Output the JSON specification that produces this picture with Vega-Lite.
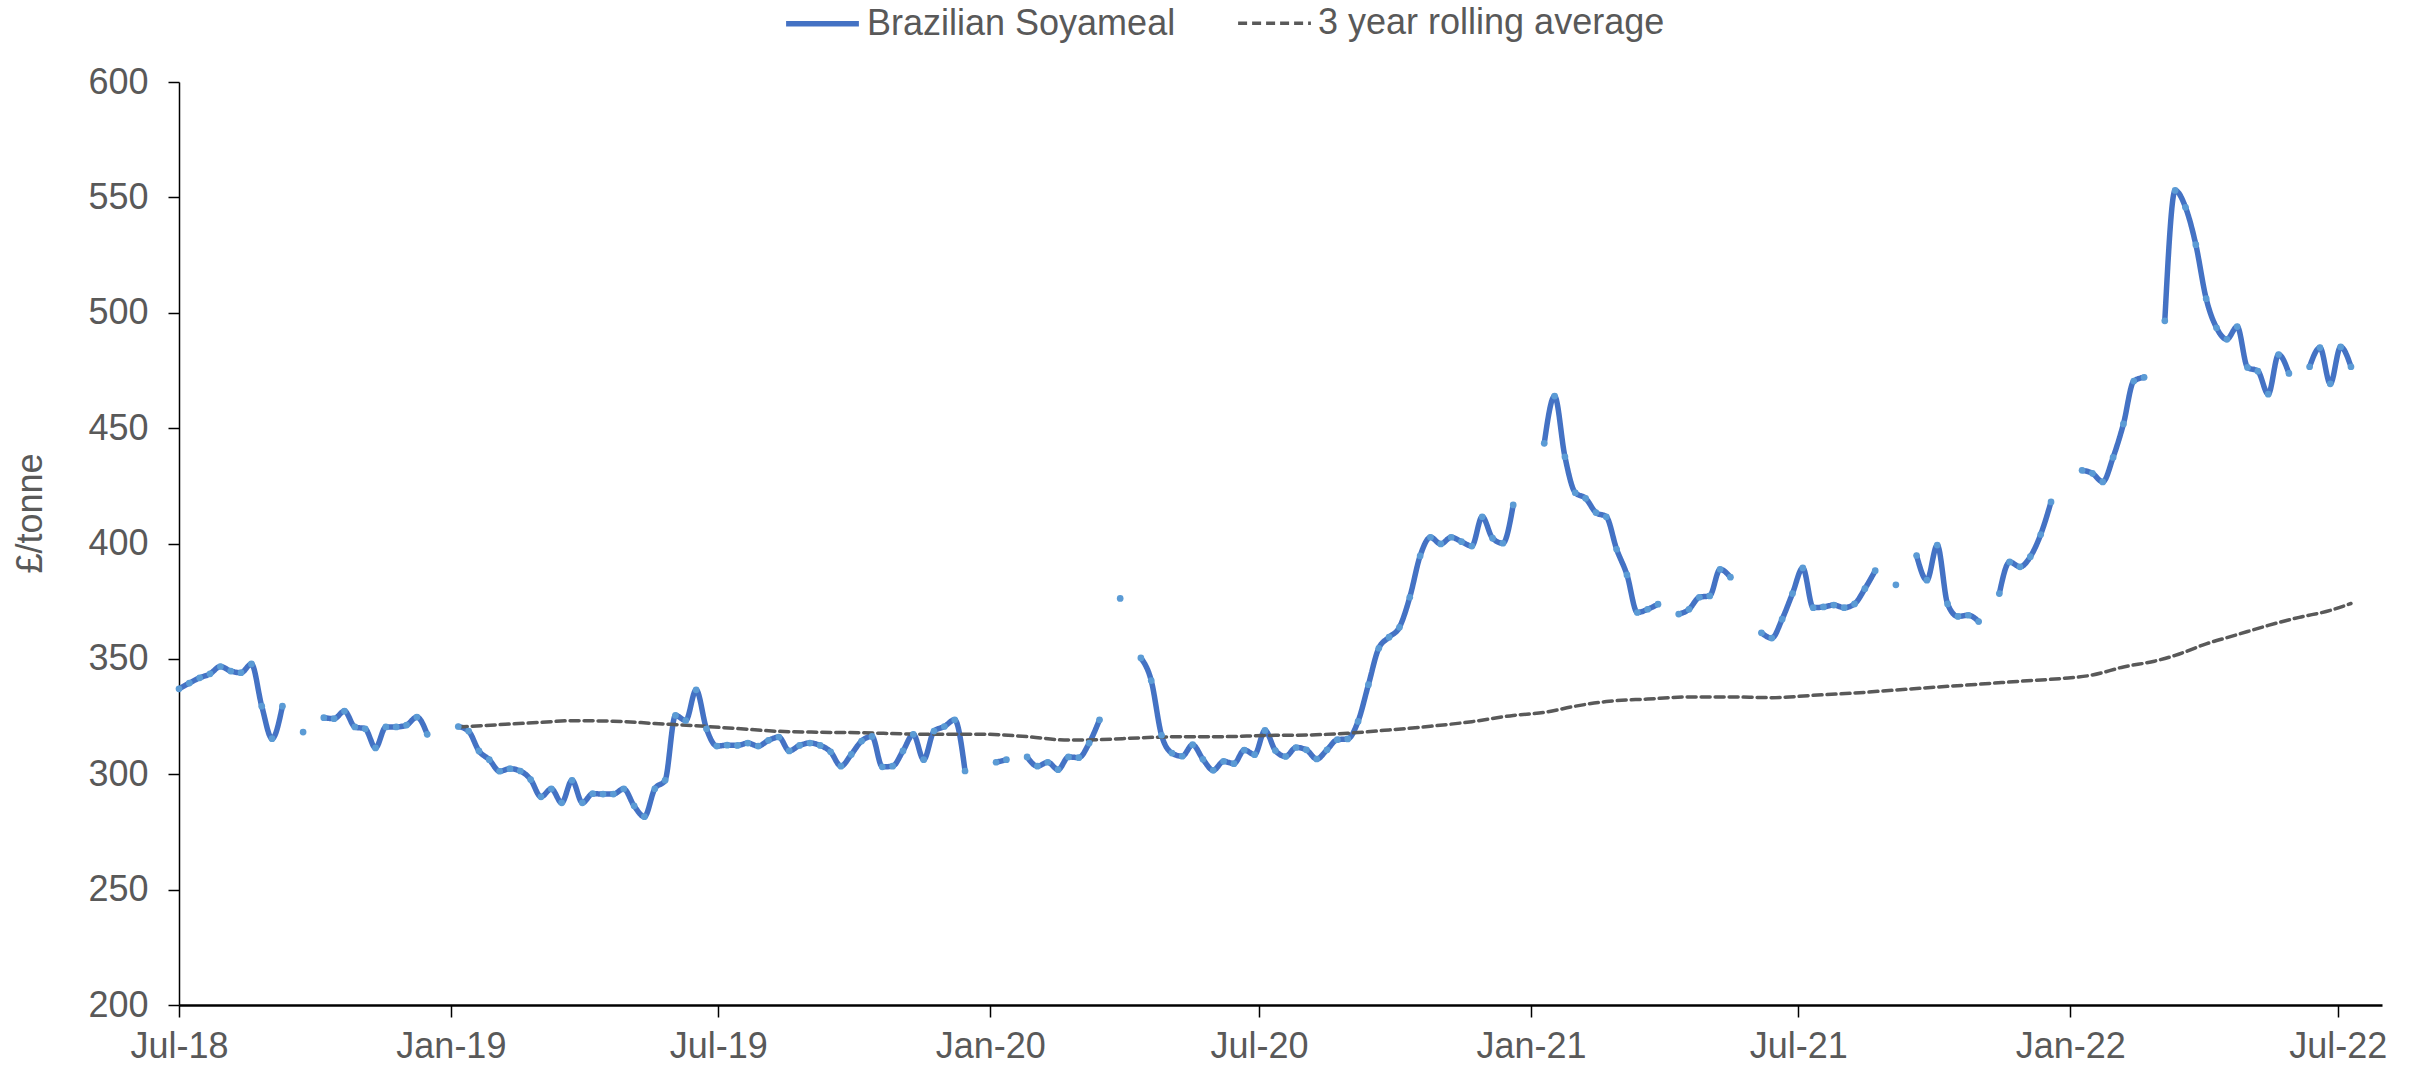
{
"$schema": "https://vega.github.io/schema/vega-lite/v6.json",
"width": 2203, "height": 923,
"autosize": {"type": "none"},
"padding": {"left": 179, "top": 82, "right": 35, "bottom": 60},
"background": "white",
"config": {"font": "Liberation Sans", "view": {"stroke": null}},
"data": {"values": [
{"date":"2018-07-01","series":"Brazilian Soyameal","value":337.0},
{"date":"2018-07-08","series":"Brazilian Soyameal","value":339.5},
{"date":"2018-07-15","series":"Brazilian Soyameal","value":341.8},
{"date":"2018-07-22","series":"Brazilian Soyameal","value":343.5},
{"date":"2018-07-29","series":"Brazilian Soyameal","value":346.7},
{"date":"2018-08-05","series":"Brazilian Soyameal","value":344.7},
{"date":"2018-08-12","series":"Brazilian Soyameal","value":344.0},
{"date":"2018-08-19","series":"Brazilian Soyameal","value":347.8},
{"date":"2018-08-26","series":"Brazilian Soyameal","value":329.5},
{"date":"2018-09-02","series":"Brazilian Soyameal","value":315.4},
{"date":"2018-09-09","series":"Brazilian Soyameal","value":329.5},
{"date":"2018-09-16","series":"Brazilian Soyameal","value":null},
{"date":"2018-09-23","series":"Brazilian Soyameal","value":318.3},
{"date":"2018-09-30","series":"Brazilian Soyameal","value":null},
{"date":"2018-10-07","series":"Brazilian Soyameal","value":324.5},
{"date":"2018-10-14","series":"Brazilian Soyameal","value":324.1},
{"date":"2018-10-21","series":"Brazilian Soyameal","value":327.4},
{"date":"2018-10-28","series":"Brazilian Soyameal","value":320.5},
{"date":"2018-11-04","series":"Brazilian Soyameal","value":319.7},
{"date":"2018-11-11","series":"Brazilian Soyameal","value":311.4},
{"date":"2018-11-18","series":"Brazilian Soyameal","value":320.5},
{"date":"2018-11-25","series":"Brazilian Soyameal","value":320.5},
{"date":"2018-12-02","series":"Brazilian Soyameal","value":321.3},
{"date":"2018-12-09","series":"Brazilian Soyameal","value":324.8},
{"date":"2018-12-16","series":"Brazilian Soyameal","value":317.3},
{"date":"2018-12-23","series":"Brazilian Soyameal","value":null},
{"date":"2018-12-30","series":"Brazilian Soyameal","value":null},
{"date":"2019-01-06","series":"Brazilian Soyameal","value":320.7},
{"date":"2019-01-13","series":"Brazilian Soyameal","value":318.7},
{"date":"2019-01-20","series":"Brazilian Soyameal","value":310.1},
{"date":"2019-01-27","series":"Brazilian Soyameal","value":306.3},
{"date":"2019-02-03","series":"Brazilian Soyameal","value":301.3},
{"date":"2019-02-10","series":"Brazilian Soyameal","value":302.4},
{"date":"2019-02-17","series":"Brazilian Soyameal","value":301.4},
{"date":"2019-02-24","series":"Brazilian Soyameal","value":297.7},
{"date":"2019-03-03","series":"Brazilian Soyameal","value":290.2},
{"date":"2019-03-10","series":"Brazilian Soyameal","value":293.7},
{"date":"2019-03-17","series":"Brazilian Soyameal","value":287.6},
{"date":"2019-03-24","series":"Brazilian Soyameal","value":297.4},
{"date":"2019-03-31","series":"Brazilian Soyameal","value":287.6},
{"date":"2019-04-07","series":"Brazilian Soyameal","value":291.6},
{"date":"2019-04-14","series":"Brazilian Soyameal","value":291.4},
{"date":"2019-04-21","series":"Brazilian Soyameal","value":291.4},
{"date":"2019-04-28","series":"Brazilian Soyameal","value":293.7},
{"date":"2019-05-05","series":"Brazilian Soyameal","value":286.3},
{"date":"2019-05-12","series":"Brazilian Soyameal","value":281.6},
{"date":"2019-05-19","series":"Brazilian Soyameal","value":293.7},
{"date":"2019-05-26","series":"Brazilian Soyameal","value":297.4},
{"date":"2019-06-02","series":"Brazilian Soyameal","value":325.5},
{"date":"2019-06-09","series":"Brazilian Soyameal","value":323.3},
{"date":"2019-06-16","series":"Brazilian Soyameal","value":336.6},
{"date":"2019-06-23","series":"Brazilian Soyameal","value":319.7},
{"date":"2019-06-30","series":"Brazilian Soyameal","value":312.2},
{"date":"2019-07-07","series":"Brazilian Soyameal","value":312.6},
{"date":"2019-07-14","series":"Brazilian Soyameal","value":312.5},
{"date":"2019-07-21","series":"Brazilian Soyameal","value":313.5},
{"date":"2019-07-28","series":"Brazilian Soyameal","value":312.2},
{"date":"2019-08-04","series":"Brazilian Soyameal","value":314.7},
{"date":"2019-08-11","series":"Brazilian Soyameal","value":316.1},
{"date":"2019-08-18","series":"Brazilian Soyameal","value":310.1},
{"date":"2019-08-25","series":"Brazilian Soyameal","value":312.5},
{"date":"2019-09-01","series":"Brazilian Soyameal","value":313.5},
{"date":"2019-09-08","series":"Brazilian Soyameal","value":312.5},
{"date":"2019-09-15","series":"Brazilian Soyameal","value":309.7},
{"date":"2019-09-22","series":"Brazilian Soyameal","value":303.5},
{"date":"2019-09-29","series":"Brazilian Soyameal","value":308.6},
{"date":"2019-10-06","series":"Brazilian Soyameal","value":314.4},
{"date":"2019-10-13","series":"Brazilian Soyameal","value":316.4},
{"date":"2019-10-20","series":"Brazilian Soyameal","value":303.2},
{"date":"2019-10-27","series":"Brazilian Soyameal","value":303.5},
{"date":"2019-11-03","series":"Brazilian Soyameal","value":310.1},
{"date":"2019-11-10","series":"Brazilian Soyameal","value":317.3},
{"date":"2019-11-17","series":"Brazilian Soyameal","value":306.3},
{"date":"2019-11-24","series":"Brazilian Soyameal","value":318.7},
{"date":"2019-12-01","series":"Brazilian Soyameal","value":320.7},
{"date":"2019-12-08","series":"Brazilian Soyameal","value":323.6},
{"date":"2019-12-15","series":"Brazilian Soyameal","value":301.4},
{"date":"2019-12-22","series":"Brazilian Soyameal","value":null},
{"date":"2019-12-29","series":"Brazilian Soyameal","value":null},
{"date":"2020-01-05","series":"Brazilian Soyameal","value":305.2},
{"date":"2020-01-12","series":"Brazilian Soyameal","value":306.3},
{"date":"2020-01-19","series":"Brazilian Soyameal","value":null},
{"date":"2020-01-26","series":"Brazilian Soyameal","value":307.5},
{"date":"2020-02-02","series":"Brazilian Soyameal","value":303.5},
{"date":"2020-02-09","series":"Brazilian Soyameal","value":305.2},
{"date":"2020-02-16","series":"Brazilian Soyameal","value":302.0},
{"date":"2020-02-23","series":"Brazilian Soyameal","value":307.5},
{"date":"2020-03-01","series":"Brazilian Soyameal","value":307.2},
{"date":"2020-03-08","series":"Brazilian Soyameal","value":313.5},
{"date":"2020-03-15","series":"Brazilian Soyameal","value":323.6},
{"date":"2020-03-22","series":"Brazilian Soyameal","value":null},
{"date":"2020-03-29","series":"Brazilian Soyameal","value":376.2},
{"date":"2020-04-05","series":"Brazilian Soyameal","value":null},
{"date":"2020-04-12","series":"Brazilian Soyameal","value":350.4},
{"date":"2020-04-19","series":"Brazilian Soyameal","value":340.6},
{"date":"2020-04-26","series":"Brazilian Soyameal","value":316.9},
{"date":"2020-05-03","series":"Brazilian Soyameal","value":309.2},
{"date":"2020-05-10","series":"Brazilian Soyameal","value":307.8},
{"date":"2020-05-17","series":"Brazilian Soyameal","value":312.8},
{"date":"2020-05-24","series":"Brazilian Soyameal","value":306.5},
{"date":"2020-05-31","series":"Brazilian Soyameal","value":301.7},
{"date":"2020-06-07","series":"Brazilian Soyameal","value":305.6},
{"date":"2020-06-14","series":"Brazilian Soyameal","value":304.6},
{"date":"2020-06-21","series":"Brazilian Soyameal","value":310.5},
{"date":"2020-06-28","series":"Brazilian Soyameal","value":308.5},
{"date":"2020-07-05","series":"Brazilian Soyameal","value":319.0},
{"date":"2020-07-12","series":"Brazilian Soyameal","value":310.3},
{"date":"2020-07-19","series":"Brazilian Soyameal","value":307.7},
{"date":"2020-07-26","series":"Brazilian Soyameal","value":311.6},
{"date":"2020-08-02","series":"Brazilian Soyameal","value":310.6},
{"date":"2020-08-09","series":"Brazilian Soyameal","value":306.6},
{"date":"2020-08-16","series":"Brazilian Soyameal","value":310.6},
{"date":"2020-08-23","series":"Brazilian Soyameal","value":315.0},
{"date":"2020-08-30","series":"Brazilian Soyameal","value":315.3},
{"date":"2020-09-06","series":"Brazilian Soyameal","value":322.9},
{"date":"2020-09-13","series":"Brazilian Soyameal","value":338.8},
{"date":"2020-09-20","series":"Brazilian Soyameal","value":354.6},
{"date":"2020-09-27","series":"Brazilian Soyameal","value":359.4},
{"date":"2020-10-04","series":"Brazilian Soyameal","value":363.7},
{"date":"2020-10-11","series":"Brazilian Soyameal","value":376.7},
{"date":"2020-10-18","series":"Brazilian Soyameal","value":394.6},
{"date":"2020-10-25","series":"Brazilian Soyameal","value":402.7},
{"date":"2020-11-01","series":"Brazilian Soyameal","value":399.8},
{"date":"2020-11-08","series":"Brazilian Soyameal","value":402.7},
{"date":"2020-11-15","series":"Brazilian Soyameal","value":400.8},
{"date":"2020-11-22","series":"Brazilian Soyameal","value":398.9},
{"date":"2020-11-29","series":"Brazilian Soyameal","value":411.6},
{"date":"2020-12-06","series":"Brazilian Soyameal","value":402.3},
{"date":"2020-12-13","series":"Brazilian Soyameal","value":400.1},
{"date":"2020-12-20","series":"Brazilian Soyameal","value":416.7},
{"date":"2020-12-27","series":"Brazilian Soyameal","value":null},
{"date":"2021-01-03","series":"Brazilian Soyameal","value":null},
{"date":"2021-01-10","series":"Brazilian Soyameal","value":443.4},
{"date":"2021-01-17","series":"Brazilian Soyameal","value":463.9},
{"date":"2021-01-24","series":"Brazilian Soyameal","value":437.6},
{"date":"2021-01-31","series":"Brazilian Soyameal","value":422.0},
{"date":"2021-02-07","series":"Brazilian Soyameal","value":419.6},
{"date":"2021-02-14","series":"Brazilian Soyameal","value":413.4},
{"date":"2021-02-21","series":"Brazilian Soyameal","value":411.6},
{"date":"2021-02-28","series":"Brazilian Soyameal","value":397.5},
{"date":"2021-03-07","series":"Brazilian Soyameal","value":386.4},
{"date":"2021-03-14","series":"Brazilian Soyameal","value":370.1},
{"date":"2021-03-21","series":"Brazilian Soyameal","value":371.5},
{"date":"2021-03-28","series":"Brazilian Soyameal","value":373.7},
{"date":"2021-04-04","series":"Brazilian Soyameal","value":null},
{"date":"2021-04-11","series":"Brazilian Soyameal","value":369.4},
{"date":"2021-04-18","series":"Brazilian Soyameal","value":371.5},
{"date":"2021-04-25","series":"Brazilian Soyameal","value":376.7},
{"date":"2021-05-02","series":"Brazilian Soyameal","value":377.3},
{"date":"2021-05-09","series":"Brazilian Soyameal","value":388.8},
{"date":"2021-05-16","series":"Brazilian Soyameal","value":385.4},
{"date":"2021-05-23","series":"Brazilian Soyameal","value":null},
{"date":"2021-05-30","series":"Brazilian Soyameal","value":null},
{"date":"2021-06-06","series":"Brazilian Soyameal","value":361.3},
{"date":"2021-06-13","series":"Brazilian Soyameal","value":359.0},
{"date":"2021-06-20","series":"Brazilian Soyameal","value":367.2},
{"date":"2021-06-27","series":"Brazilian Soyameal","value":378.3},
{"date":"2021-07-04","series":"Brazilian Soyameal","value":389.4},
{"date":"2021-07-11","series":"Brazilian Soyameal","value":372.2},
{"date":"2021-07-18","series":"Brazilian Soyameal","value":372.5},
{"date":"2021-07-25","series":"Brazilian Soyameal","value":373.3},
{"date":"2021-08-01","series":"Brazilian Soyameal","value":372.2},
{"date":"2021-08-08","series":"Brazilian Soyameal","value":373.8},
{"date":"2021-08-15","series":"Brazilian Soyameal","value":380.4},
{"date":"2021-08-22","series":"Brazilian Soyameal","value":388.2},
{"date":"2021-08-29","series":"Brazilian Soyameal","value":null},
{"date":"2021-09-05","series":"Brazilian Soyameal","value":382.1},
{"date":"2021-09-12","series":"Brazilian Soyameal","value":null},
{"date":"2021-09-19","series":"Brazilian Soyameal","value":394.8},
{"date":"2021-09-26","series":"Brazilian Soyameal","value":384.1},
{"date":"2021-10-03","series":"Brazilian Soyameal","value":399.3},
{"date":"2021-10-10","series":"Brazilian Soyameal","value":373.8},
{"date":"2021-10-17","series":"Brazilian Soyameal","value":368.4},
{"date":"2021-10-24","series":"Brazilian Soyameal","value":368.9},
{"date":"2021-10-31","series":"Brazilian Soyameal","value":366.2},
{"date":"2021-11-07","series":"Brazilian Soyameal","value":null},
{"date":"2021-11-14","series":"Brazilian Soyameal","value":378.3},
{"date":"2021-11-21","series":"Brazilian Soyameal","value":392.0},
{"date":"2021-11-28","series":"Brazilian Soyameal","value":389.9},
{"date":"2021-12-05","series":"Brazilian Soyameal","value":394.3},
{"date":"2021-12-12","series":"Brazilian Soyameal","value":403.9},
{"date":"2021-12-19","series":"Brazilian Soyameal","value":418.0},
{"date":"2021-12-26","series":"Brazilian Soyameal","value":null},
{"date":"2022-01-02","series":"Brazilian Soyameal","value":null},
{"date":"2022-01-09","series":"Brazilian Soyameal","value":431.7},
{"date":"2022-01-16","series":"Brazilian Soyameal","value":430.4},
{"date":"2022-01-23","series":"Brazilian Soyameal","value":426.7},
{"date":"2022-01-30","series":"Brazilian Soyameal","value":437.3},
{"date":"2022-02-06","series":"Brazilian Soyameal","value":451.8},
{"date":"2022-02-13","series":"Brazilian Soyameal","value":470.4},
{"date":"2022-02-20","series":"Brazilian Soyameal","value":472.0},
{"date":"2022-02-27","series":"Brazilian Soyameal","value":null},
{"date":"2022-03-06","series":"Brazilian Soyameal","value":496.5},
{"date":"2022-03-13","series":"Brazilian Soyameal","value":553.0},
{"date":"2022-03-20","series":"Brazilian Soyameal","value":545.7},
{"date":"2022-03-27","series":"Brazilian Soyameal","value":529.5},
{"date":"2022-04-03","series":"Brazilian Soyameal","value":506.1},
{"date":"2022-04-10","series":"Brazilian Soyameal","value":493.5},
{"date":"2022-04-17","series":"Brazilian Soyameal","value":488.5},
{"date":"2022-04-24","series":"Brazilian Soyameal","value":494.0},
{"date":"2022-05-01","series":"Brazilian Soyameal","value":476.3},
{"date":"2022-05-08","series":"Brazilian Soyameal","value":474.7},
{"date":"2022-05-15","series":"Brazilian Soyameal","value":464.7},
{"date":"2022-05-22","series":"Brazilian Soyameal","value":481.9},
{"date":"2022-05-29","series":"Brazilian Soyameal","value":473.7},
{"date":"2022-06-05","series":"Brazilian Soyameal","value":null},
{"date":"2022-06-12","series":"Brazilian Soyameal","value":476.6},
{"date":"2022-06-19","series":"Brazilian Soyameal","value":484.9},
{"date":"2022-06-26","series":"Brazilian Soyameal","value":469.2},
{"date":"2022-07-03","series":"Brazilian Soyameal","value":485.2},
{"date":"2022-07-10","series":"Brazilian Soyameal","value":476.6},
{"date":"2019-01-06","series":"3 year rolling average","value":320.5},
{"date":"2019-02-03","series":"3 year rolling average","value":321.5},
{"date":"2019-03-03","series":"3 year rolling average","value":322.5},
{"date":"2019-03-24","series":"3 year rolling average","value":323.2},
{"date":"2019-04-21","series":"3 year rolling average","value":323.0},
{"date":"2019-05-19","series":"3 year rolling average","value":322.0},
{"date":"2019-06-16","series":"3 year rolling average","value":321.0},
{"date":"2019-07-14","series":"3 year rolling average","value":319.8},
{"date":"2019-08-11","series":"3 year rolling average","value":318.6},
{"date":"2019-09-08","series":"3 year rolling average","value":318.2},
{"date":"2019-10-06","series":"3 year rolling average","value":318.0},
{"date":"2019-11-03","series":"3 year rolling average","value":317.5},
{"date":"2019-12-01","series":"3 year rolling average","value":317.3},
{"date":"2019-12-29","series":"3 year rolling average","value":317.3},
{"date":"2020-01-26","series":"3 year rolling average","value":316.3},
{"date":"2020-02-23","series":"3 year rolling average","value":314.8},
{"date":"2020-03-15","series":"3 year rolling average","value":315.0},
{"date":"2020-04-12","series":"3 year rolling average","value":315.8},
{"date":"2020-05-10","series":"3 year rolling average","value":316.3},
{"date":"2020-06-07","series":"3 year rolling average","value":316.3},
{"date":"2020-07-05","series":"3 year rolling average","value":316.8},
{"date":"2020-08-02","series":"3 year rolling average","value":317.0},
{"date":"2020-08-30","series":"3 year rolling average","value":317.8},
{"date":"2020-09-27","series":"3 year rolling average","value":319.2},
{"date":"2020-10-25","series":"3 year rolling average","value":320.8},
{"date":"2020-11-22","series":"3 year rolling average","value":322.8},
{"date":"2020-12-20","series":"3 year rolling average","value":325.5},
{"date":"2021-01-10","series":"3 year rolling average","value":326.8},
{"date":"2021-01-31","series":"3 year rolling average","value":329.5},
{"date":"2021-02-21","series":"3 year rolling average","value":331.5},
{"date":"2021-03-21","series":"3 year rolling average","value":332.6},
{"date":"2021-04-18","series":"3 year rolling average","value":333.5},
{"date":"2021-05-16","series":"3 year rolling average","value":333.5},
{"date":"2021-06-13","series":"3 year rolling average","value":333.2},
{"date":"2021-07-11","series":"3 year rolling average","value":334.2},
{"date":"2021-08-08","series":"3 year rolling average","value":335.2},
{"date":"2021-09-05","series":"3 year rolling average","value":336.5},
{"date":"2021-10-03","series":"3 year rolling average","value":337.8},
{"date":"2021-10-31","series":"3 year rolling average","value":339.0},
{"date":"2021-11-28","series":"3 year rolling average","value":340.3},
{"date":"2021-12-26","series":"3 year rolling average","value":341.5},
{"date":"2022-01-16","series":"3 year rolling average","value":343.0},
{"date":"2022-02-06","series":"3 year rolling average","value":346.5},
{"date":"2022-02-27","series":"3 year rolling average","value":349.0},
{"date":"2022-03-13","series":"3 year rolling average","value":351.5},
{"date":"2022-04-03","series":"3 year rolling average","value":356.5},
{"date":"2022-04-24","series":"3 year rolling average","value":360.5},
{"date":"2022-05-15","series":"3 year rolling average","value":364.5},
{"date":"2022-06-05","series":"3 year rolling average","value":368.0},
{"date":"2022-06-26","series":"3 year rolling average","value":371.0},
{"date":"2022-07-10","series":"3 year rolling average","value":374.0}
]},
"layer": [
{"mark": {"type": "line", "interpolate": "monotone", "invalid": "break-paths-show-domains", "strokeCap": "round", "strokeJoin": "round"},
 "encoding": {
  "x": {"field": "date", "type": "temporal",
        "scale": {"type": "utc", "domain": [{"year": 2018, "month": 7, "date": 1, "utc": true}, {"year": 2022, "month": 7, "date": 31, "utc": true}]},
        "axis": {"title": null, "grid": false, "format": "%b-%y",
                 "values": [{"year": 2018, "month": 7, "date": 1, "utc": true}, {"year": 2019, "month": 1, "date": 1, "utc": true}, {"year": 2019, "month": 7, "date": 1, "utc": true}, {"year": 2020, "month": 1, "date": 1, "utc": true}, {"year": 2020, "month": 7, "date": 1, "utc": true}, {"year": 2021, "month": 1, "date": 1, "utc": true}, {"year": 2021, "month": 7, "date": 1, "utc": true}, {"year": 2022, "month": 1, "date": 1, "utc": true}, {"year": 2022, "month": 7, "date": 1, "utc": true}],
                 "labelFontSize": 36, "labelColor": "#595959", "labelFont": "Liberation Sans", "labelPadding": 12, "labelFlush": false, "labelOverlap": false,
                 "tickColor": "#000000", "tickSize": 12, "tickWidth": 1.5, "domainColor": "#000000", "domainWidth": 2.5}},
  "y": {"field": "value", "type": "quantitative",
        "scale": {"domain": [200, 600], "nice": false, "zero": false},
        "axis": {"title": "£/tonne", "titleFontSize": 36, "titleFontWeight": "normal", "titleColor": "#595959", "titleFont": "Liberation Sans",
                 "titleX": -149, "titleY": 431, "titleAngle": -90, "titleBaseline": "middle", "titleAlign": "center",
                 "grid": false, "values": [200, 250, 300, 350, 400, 450, 500, 550, 600],
                 "labelFontSize": 36, "labelColor": "#595959", "labelFont": "Liberation Sans", "labelPadding": 20,
                 "tickColor": "#000000", "tickSize": 11, "tickWidth": 1.5, "domainColor": "#000000", "domainWidth": 1.5}},
  "color": {"field": "series", "type": "nominal",
            "scale": {"domain": ["Brazilian Soyameal", "3 year rolling average"], "range": ["#4472C4", "#595959"]},
            "legend": {"title": null, "orient": "none", "legendX": 604, "legendY": -98, "direction": "horizontal",
                       "labelFontSize": 36, "labelColor": "#595959", "labelFont": "Liberation Sans", "labelLimit": 1000,
                       "symbolType": "stroke", "symbolSize": 5300, "columnPadding": 55, "labelOffset": 5, "padding": 0}},
  "strokeDash": {"field": "series", "type": "nominal",
                 "scale": {"domain": ["Brazilian Soyameal", "3 year rolling average"], "range": [[1, 0], [9, 5]]}},
  "strokeWidth": {"field": "series", "type": "nominal",
                  "scale": {"domain": ["Brazilian Soyameal", "3 year rolling average"], "range": [5.5, 3.5]}}
 }},
{"transform": [{"filter": "datum.series === 'Brazilian Soyameal' && isValid(datum.value)"}],
 "mark": {"type": "point", "filled": true, "size": 45, "color": "#5B9BD5", "opacity": 1},
 "encoding": {
  "x": {"field": "date", "type": "temporal"},
  "y": {"field": "value", "type": "quantitative"}
 }}
]
}
